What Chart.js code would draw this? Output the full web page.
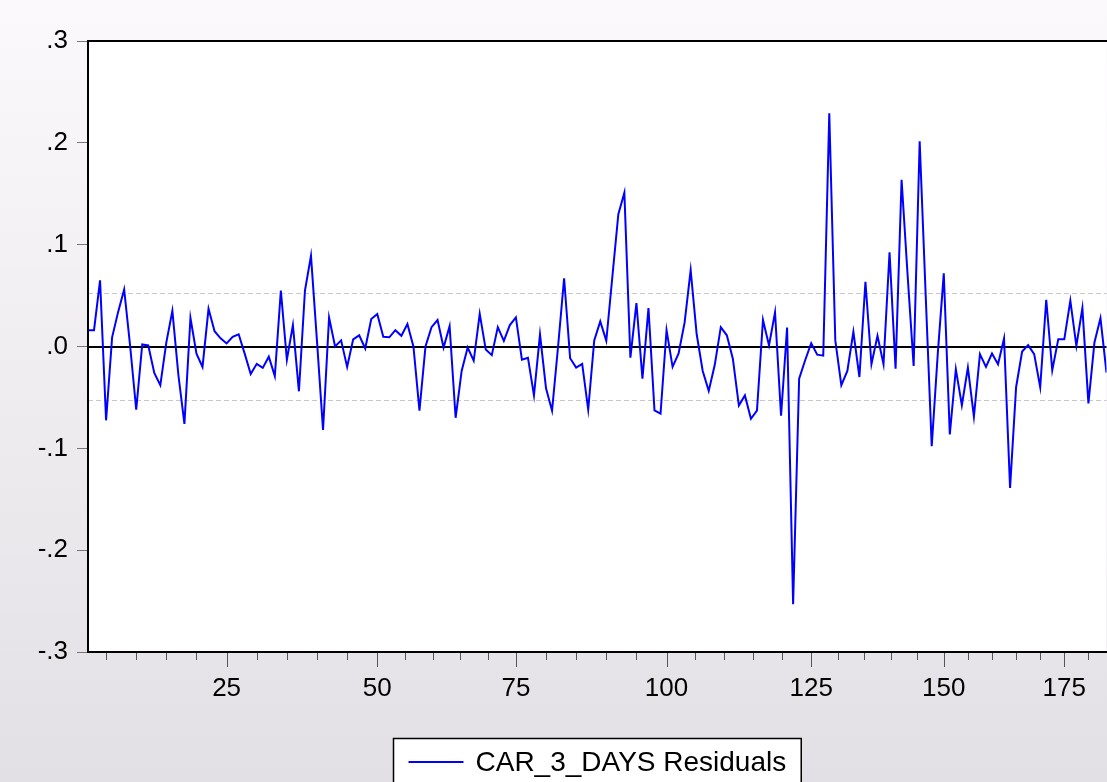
<!DOCTYPE html>
<html>
<head>
<meta charset="utf-8">
<script src="https://cdn.jsdelivr.net/npm/chart.js@4.4.0/dist/chart.umd.min.js"></script>
<style>
html, body { margin: 0; padding: 0; }
body { width: 1107px; height: 782px; overflow: hidden; }
</style>
</head>
<body>
<canvas id="myChart" width="1107" height="782"></canvas>
<script>
// observation number of the first residual shown
var firstObs = 2;

var residuals = [
    0.016, 0.016, 0.065, -0.0725, 0.009, 0.034, 0.056, 0.0, -0.062, 0.002,
    0.001, -0.026, -0.038, 0.004, 0.035, -0.028, -0.076, 0.028, -0.007, -0.020,
    0.037, 0.015, 0.008, 0.003, 0.0095, 0.012, -0.007, -0.027, -0.017, -0.021,
    -0.010, -0.029, 0.055, -0.013, 0.021, -0.044, 0.055, 0.089, 0.005, -0.082,
    0.0285, 0.0, 0.006, -0.020, 0.007, 0.011, -0.002, 0.027, 0.032, 0.0095,
    0.009, 0.016, 0.0105, 0.022, 0.0, -0.063, 0.0, 0.019, 0.026, -0.001,
    0.020, -0.070, -0.024, -0.001, -0.014, 0.032, -0.003, -0.0085, 0.019, 0.0056,
    0.021, 0.0285, -0.013, -0.011, -0.048, 0.012, -0.041, -0.063, 0.0, 0.067,
    -0.0115, -0.0207, -0.017, -0.062, 0.006, 0.0246, 0.0056, 0.068, 0.130, 0.151,
    -0.011, 0.0427, -0.0315, 0.0377, -0.0627, -0.066, 0.016, -0.020, -0.0069, 0.0236,
    0.075, 0.012, -0.024, -0.0436, -0.018, 0.019, 0.011, -0.012, -0.058, -0.048,
    -0.071, -0.063, 0.026, 0.001, 0.0335, -0.068, 0.0187, -0.253, -0.0315, -0.0135,
    0.0033, -0.008, -0.009, 0.229, 0.006, -0.038, -0.024, 0.0144, -0.030, 0.0636,
    -0.0174, 0.0105, -0.0174, 0.0925, -0.0217, 0.1637, 0.07, -0.019, 0.2015, 0.05,
    -0.0978, -0.0075, 0.0718, -0.0863, -0.0223, -0.0577, -0.0207, -0.0689, -0.0075, -0.020,
    -0.0069, -0.0174, 0.0079, -0.1388, -0.040, -0.0049, 0.0013, -0.0075, -0.040, 0.0459,
    -0.0233, 0.0072, 0.0072, 0.045, 0.0007, 0.0377, -0.0558, 0.0039, 0.0279, -0.0256
];

// +/- one standard error band (dashed lines)
var seBand = 0.0526;

var yMin = -0.3, yMax = 0.3, yStep = 0.1;

// x axis labels and where they sit along the series (as printed in the picture)
var xTickLabels = ['25', '50', '75', '100', '125', '150', '175'];
var xTickAt = [25, 50, 73, 98, 122, 144, 164];
var xMinorPerMajor = 5;

var seriesName = 'CAR_3_DAYS Residuals';

var FONT = 'Liberation Sans, Arial, sans-serif';

var points = residuals.map(function (v, i) {
    return { x: firstObs + i, y: v };
});

// format .3 / -.1 like eviews
function fmtY(v) {
    if (Math.abs(v) < 1e-9) return '.0';
    var s = v.toFixed(1);
    return s.replace('0.', '.');
}

// minor tick values between the labelled ones
function minorTicks(min, max) {
    var out = [];
    var step0 = (xTickAt[1] - xTickAt[0]) / xMinorPerMajor;
    for (var t = xTickAt[0] - step0; t > min; t -= step0) out.push(t);
    for (var i = 0; i < xTickAt.length - 1; i++) {
        var st = (xTickAt[i + 1] - xTickAt[i]) / xMinorPerMajor;
        for (var k = 1; k < xMinorPerMajor; k++) out.push(xTickAt[i] + k * st);
    }
    var last = xTickAt[xTickAt.length - 1];
    var stN = (last - xTickAt[xTickAt.length - 2]) / xMinorPerMajor;
    for (var t2 = last + stN; t2 <= max; t2 += stN) out.push(t2);
    return out;
}

// background, white plot area, reference lines and the frame
var framePlugin = {
    id: 'frame',
    beforeDraw: function (chart) {
        var ctx = chart.ctx, a = chart.chartArea;
        var g = ctx.createLinearGradient(0, 0, 0, chart.height);
        g.addColorStop(0, '#fcf9fc');
        g.addColorStop(1, '#e2e0e4');
        ctx.save();
        ctx.fillStyle = g;
        ctx.fillRect(0, 0, chart.width, chart.height);
        ctx.fillStyle = '#ffffff';
        ctx.fillRect(a.left, a.top, a.right - a.left, a.bottom - a.top);
        ctx.restore();
    },
    beforeDatasetsDraw: function (chart) {
        var ctx = chart.ctx, a = chart.chartArea, ys = chart.scales.y;
        ctx.save();
        ctx.strokeStyle = '#c8c8c8';
        ctx.lineWidth = 1;
        ctx.setLineDash([5, 3]);
        [seBand, -seBand].forEach(function (v) {
            var py = Math.round(ys.getPixelForValue(v)) + 0.5;
            ctx.beginPath();
            ctx.moveTo(a.left, py);
            ctx.lineTo(a.right, py);
            ctx.stroke();
        });
        ctx.setLineDash([]);
        ctx.strokeStyle = '#000000';
        ctx.lineWidth = 2;
        var zy = Math.round(ys.getPixelForValue(0));
        ctx.beginPath();
        ctx.moveTo(a.left, zy);
        ctx.lineTo(a.right, zy);
        ctx.stroke();
        ctx.restore();
    },
    afterDraw: function (chart) {
        var ctx = chart.ctx, a = chart.chartArea, xs = chart.scales.x;
        ctx.save();
        // frame: top, left, bottom
        ctx.strokeStyle = '#000000';
        ctx.lineWidth = 2;
        ctx.beginPath();
        ctx.moveTo(chart.width, a.top);
        ctx.lineTo(a.left, a.top);
        ctx.lineTo(a.left, a.bottom);
        ctx.lineTo(chart.width, a.bottom);
        ctx.stroke();

        // x tick marks, longer at labelled ones
        ctx.strokeStyle = '#555555';
        ctx.lineWidth = 1;
        function tick(v, len) {
            var px = Math.round(xs.getPixelForValue(v)) + 0.5;
            ctx.beginPath();
            ctx.moveTo(px, a.bottom + 1);
            ctx.lineTo(px, a.bottom + 1 + len);
            ctx.stroke();
        }
        minorTicks(xs.min, xs.max).forEach(function (v) { tick(v, 7); });
        xTickAt.forEach(function (v) { tick(v, 14); });

        // legend box
        ctx.font = '28px ' + FONT;
        var tw = ctx.measureText(seriesName).width;
        var boxW = 15 + 55 + 12 + tw + 15;
        var cx = (a.left + a.right) / 2;
        var bx = Math.round(cx - boxW / 2) + 0.5;
        var by = 738.5;
        ctx.fillStyle = '#ffffff';
        ctx.fillRect(bx, by, boxW, chart.height - by + 5);
        ctx.strokeStyle = '#000000';
        ctx.lineWidth = 1.5;
        ctx.strokeRect(bx, by, boxW, chart.height - by + 5);
        ctx.strokeStyle = '#0000ff';
        ctx.lineWidth = 2;
        ctx.beginPath();
        ctx.moveTo(bx + 15, 762);
        ctx.lineTo(bx + 70, 762);
        ctx.stroke();
        ctx.fillStyle = '#000000';
        ctx.textBaseline = 'alphabetic';
        ctx.textAlign = 'left';
        ctx.fillText(seriesName, bx + 82, 771);
        ctx.restore();
    }
};

new Chart(document.querySelector('#myChart'), {
    type: 'line',
    data: {
        datasets: [{
            label: seriesName,
            data: points,
            borderColor: '#0000ff',
            borderWidth: 2,
            pointRadius: 0,
            tension: 0,
            fill: false
        }]
    },
    options: {
        responsive: false,
        animation: false,
        devicePixelRatio: 1,
        layout: { padding: { top: 41, right: 0, bottom: 0, left: 0 } },
        plugins: {
            legend: { display: false },
            tooltip: { enabled: false }
        },
        scales: {
            x: {
                type: 'linear',
                min: firstObs,
                max: firstObs + residuals.length - 1,
                afterFit: function (s) { s.height = 130; },
                afterBuildTicks: function (s) {
                    s.ticks = xTickAt.map(function (v) { return { value: v }; });
                },
                grid: { display: false, drawTicks: false },
                border: { display: false },
                ticks: {
                    autoSkip: false,
                    maxRotation: 0,
                    padding: 21,
                    color: '#000000',
                    font: { family: FONT, size: 26 },
                    callback: function (v, i) { return xTickLabels[i]; }
                }
            },
            y: {
                min: yMin,
                max: yMax,
                afterFit: function (s) { s.width = 88; },
                grid: {
                    drawOnChartArea: false,
                    drawTicks: true,
                    tickLength: 11,
                    color: '#777777'
                },
                border: { display: false },
                ticks: {
                    stepSize: yStep,
                    padding: 9,
                    color: '#000000',
                    font: { family: FONT, size: 26 },
                    callback: function (v) { return fmtY(v); }
                }
            }
        }
    },
    plugins: [framePlugin]
});
</script>
</body>
</html>
